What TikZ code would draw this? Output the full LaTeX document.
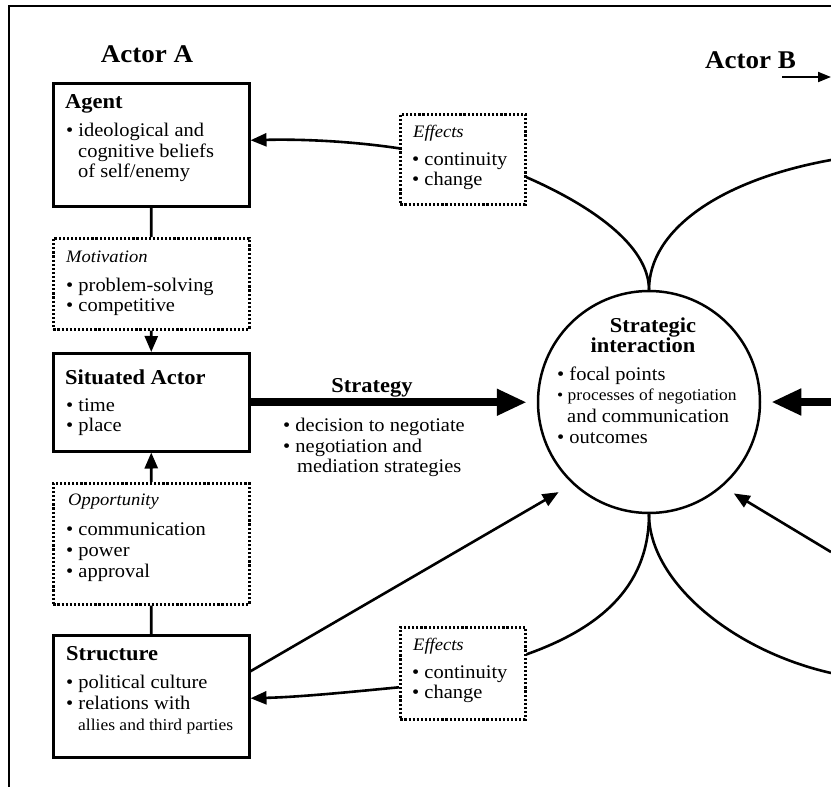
\documentclass[tikz,border=0pt]{standalone}
\usepackage{fontspec}
\setmainfont[FakeStretch=1.06]{Liberation Serif}
\usetikzlibrary{arrows.meta,calc}
\newcommand\fR{\fontsize{19.3}{20}\selectfont}
\newcommand\fB{\fontsize{21.2}{22}\selectfont\bfseries}
\newcommand\fI{\fontsize{17.5}{18}\selectfont\itshape}
\newcommand\fS{\fontsize{16.5}{18}\selectfont}
\newcommand\fA{\fontsize{25.5}{26}\selectfont\bfseries}
\begin{document}
\begin{tikzpicture}[x=1pt,y=-1pt,
  box/.style={draw, line width=2.5pt, inner sep=0pt, anchor=north west},
  dbox/.style={draw, line width=2.6pt, dash pattern=on 2.2pt off 1.9pt, inner sep=0pt, anchor=north west},
  txt/.style={anchor=base west, inner sep=0pt, font=\fR},
  ctxt/.style={anchor=base, inner sep=0pt, font=\fR},
  conn/.style={line width=2.6pt},
  arr/.style={conn, -{Triangle[length=16pt,width=13pt]}},
  bigarr/.style={line width=8pt, -{Triangle[length=30pt,width=25pt]}},
]
\useasboundingbox (0,0) rectangle (831,787);
\fill[white] (0,0) rectangle (831,787);
% frame
\draw[line width=2.5pt] (831,6) -- (9,6) -- (9,787);

% free ends at the right edge
\coordinate (rtop) at (831,160);
\coordinate (rbot) at (831,673);
\coordinate (rarr) at (831,552);
\coordinate (rstrat) at (831,402);
\coordinate (bS) at (782,77);
\coordinate (bE) at (831,77);

% titles
\node[ctxt] (actA) at (147,62) {\fA Actor A};
\node[txt] (actB) at (705,68) {\fA Actor B};

% boxes
\node[box, minimum width=196pt, minimum height=123pt] (agent) at (52,82) {};
\node[dbox, minimum width=196pt, minimum height=91pt] (motiv) at (52,237) {};
\node[box, minimum width=196pt, minimum height=98pt] (situated) at (52,352) {};
\node[dbox, minimum width=196pt, minimum height=121pt] (oppo) at (52,482) {};
\node[box, minimum width=196pt, minimum height=122pt] (structure) at (52,634) {};
\node[dbox, minimum width=125pt, minimum height=90pt] (eff1) at (399,113) {};
\node[dbox, minimum width=125pt, minimum height=92pt] (eff2) at (399,626) {};
\node[draw, circle, line width=2.5pt, minimum size=222pt, inner sep=0pt] (circ) at (649,402) {};

% texts: Agent
\node[txt] (agH) at (65,108) {\fB Agent};
\node[txt] (ag1) at (66,136) {• ideological and};
\node[txt] (ag2) at (78,157) {cognitive beliefs};
\node[txt] (ag3) at (78,177) {of self/enemy};
% Motivation
\node[txt] (moH) at (66,262) {\fI Motivation};
\node[txt] (mo1) at (66,291) {• problem-solving};
\node[txt] (mo2) at (66,311) {• competitive};
% Situated actor
\node[txt] (siH) at (65,384) {\fB Situated Actor};
\node[txt] (si1) at (66,411) {• time};
\node[txt] (si2) at (66,431) {• place};
% Opportunity
\node[txt] (opH) at (68,505) {\fI Opportunity};
\node[txt] (op1) at (66,535) {• communication};
\node[txt] (op2) at (66,556) {• power};
\node[txt] (op3) at (66,577) {• approval};
% Structure
\node[txt] (stH) at (66,660) {\fB Structure};
\node[txt] (st1) at (66,688) {• political culture};
\node[txt] (st2) at (66,709) {• relations with};
\node[txt] (st3) at (78,730) {\fS allies and third parties};
% Effects top
\node[txt] (e1H) at (413,137) {\fI Effects};
\node[txt] (e11) at (412,165) {• continuity};
\node[txt] (e12) at (412,185) {• change};
% Effects bottom
\node[txt] (e2H) at (413,650) {\fI Effects};
\node[txt] (e21) at (412,678) {• continuity};
\node[txt] (e22) at (412,698) {• change};
% Strategy
\node[ctxt] (sgH) at (372,392) {\fB Strategy};
\node[txt] (sg1) at (283,431) {• decision to negotiate};
\node[txt] (sg2) at (283,452) {• negotiation and};
\node[txt] (sg3) at (297,472) {mediation strategies};
% Circle
\node[ctxt] (ciH1) at (653,332) {\fB Strategic};
\node[ctxt] (ciH2) at (643,352) {\fB interaction};
\node[txt] (ci1) at (557,380) {• focal points};
\node[txt] (ci2) at (557,400) {\fS • processes of negotiation};
\node[txt] (ci3) at (567,422) {and communication};
\node[txt] (ci4) at (557,443) {• outcomes};

% vertical connectors
\draw[conn] (agent.south) -- (motiv.north);
\draw[arr] (motiv.south) -- (situated.north);
\draw[arr] (oppo.north) -- (situated.south);
\draw[conn] (oppo.south) -- (structure.north);

% effects connectors
\draw[arr] ([yshift=11pt]eff1.west) .. controls (350,141) and (300,139) .. ([yshift=4.5pt]agent.east);
\draw[conn] ([yshift=-18pt]eff1.east) .. controls (590,205) and (649,245) .. (circ.north);
\draw[conn] (circ.north) .. controls (649,230) and (720,180) .. (rtop);
\draw[conn] (circ.south) .. controls (649,590) and (595,630) .. ([yshift=19pt]eff2.east);
\draw[conn] (circ.south) .. controls (649,580) and (730,650) .. (rbot);
\draw[arr] ([yshift=-14pt]eff2.west) .. controls (350,692) and (300,697) .. ([yshift=-2pt]structure.east);

% structure / actor B influence on interaction
\draw[arr, shorten >=16pt] ([yshift=25pt]structure.east) -- (circ.227.8);
\draw[arr, shorten >=13pt] (rarr) -- (circ.311.8);

% strategy arrows
\draw[bigarr, shorten >=10pt] (situated.east) -- (situated.east -| circ.west);
\draw[bigarr, shorten >=10pt] (rstrat) -- (circ.east);

% actor B arrow
\draw[line width=2pt, -{Triangle[length=13pt,width=10pt]}] (bS) -- (bE);
\end{tikzpicture}
\end{document}
